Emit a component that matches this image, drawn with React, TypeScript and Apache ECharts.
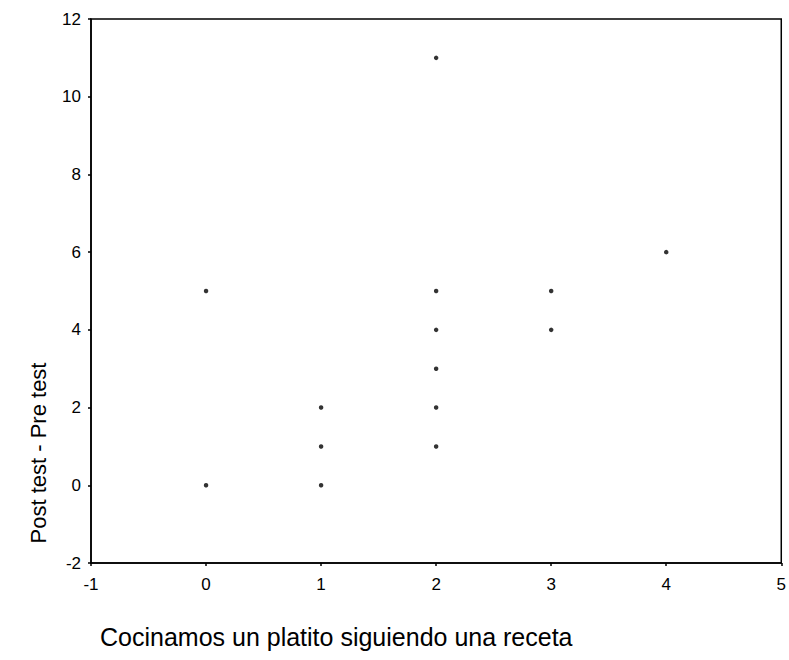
import React, { useEffect, useRef } from "react";
import * as echarts from "echarts";

const xValues = [0, 0, 1, 1, 1, 2, 2, 2, 2, 2, 2, 3, 3, 4];
const yValues = [5, 0, 2, 1, 0, 11, 5, 4, 3, 2, 1, 5, 4, 6];
const xTitle = "Cocinamos un platito siguiendo una receta";
const yTitle = "Post test - Pre test";

export default function App() {
  const ref = useRef<HTMLDivElement>(null);
  useEffect(() => {
    if (!ref.current) return;
    const chart = echarts.init(ref.current, null, { renderer: "svg" });
    const font = "Liberation Sans, Arial, sans-serif";
    chart.setOption({
      animation: false,
      backgroundColor: "#fff",
      grid: {
        left: 91,
        right: 4,
        top: 19,
        bottom: 97,
        show: true,
        borderColor: "#000",
        borderWidth: 1.5,
      },
      xAxis: {
        type: "value",
        min: -1,
        max: 5,
        interval: 1,
        axisLine: { show: true, onZero: false, lineStyle: { color: "#000", width: 1.5 } },
        axisTick: { show: true, length: 3, lineStyle: { color: "#000", width: 1.5 } },
        splitLine: { show: false },
        axisLabel: { color: "#000", fontSize: 17, fontFamily: font, margin: 13 },
      },
      yAxis: {
        type: "value",
        min: -2,
        max: 12,
        interval: 2,
        axisLine: { show: true, onZero: false, lineStyle: { color: "#000", width: 1.5 } },
        axisTick: { show: true, length: 3, lineStyle: { color: "#000", width: 1.5 } },
        splitLine: { show: false },
        axisLabel: { color: "#000", fontSize: 17, fontFamily: font, margin: 10 },
      },
      series: [
        {
          type: "scatter",
          symbol: "circle",
          symbolSize: 4.5,
          itemStyle: { color: "#000" },
          data: xValues.map((x, i) => [x, yValues[i]]),
        },
      ],
      graphic: [
        {
          type: "text",
          x: 38,
          y: 453,
          rotation: Math.PI / 2,
          style: {
            text: yTitle,
            fill: "#000",
            font: `22px ${font}`,
            textAlign: "center",
            textVerticalAlign: "middle",
          },
        },
        {
          type: "text",
          x: 100,
          y: 637,
          style: {
            text: xTitle,
            fill: "#000",
            font: `25px ${font}`,
            textAlign: "left",
            textVerticalAlign: "middle",
          },
        },
      ],
    });
    return () => chart.dispose();
  }, []);
  return <div ref={ref} style={{ width: 789, height: 660, position: "absolute", left: 0, top: 0 }} />;
}
